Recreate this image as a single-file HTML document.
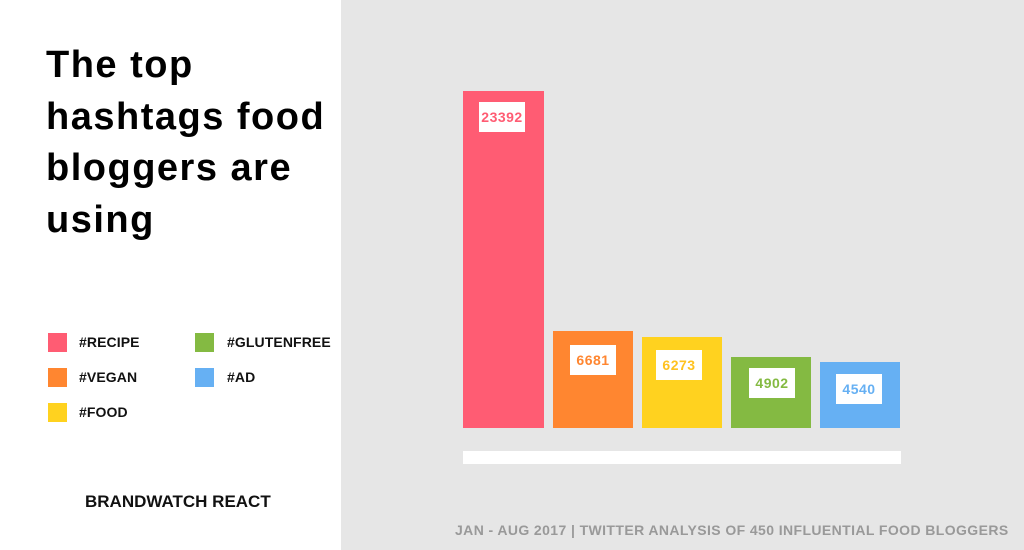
<!DOCTYPE html>
<html><head><style>
body{margin:0;width:1024px;height:550px;position:relative;background:#fff;font-family:"Liberation Sans",sans-serif;overflow:hidden}
.a{position:absolute;white-space:nowrap}
.gray{left:341px;top:0;width:683px;height:550px;background:#e6e6e6}
h1{position:absolute;left:46px;top:40px;margin:0;font-size:38px;line-height:51.5px;font-weight:bold;color:#000;letter-spacing:1.5px;white-space:nowrap}
.sq{width:19px;height:19px}
.lt{font-size:14px;font-weight:bold;letter-spacing:0.1px;color:#111}
.lb{background:#fff;width:46px;height:30px;font-size:14px;font-weight:bold;text-align:center;line-height:30px;letter-spacing:0.5px}
</style></head><body>
<div class="a gray"></div>
<h1>The top<br>hashtags food<br>bloggers are<br>using</h1>

<div class="a sq" style="left:48px;top:333px;background:#ff5c73"></div><div class="a lt" style="left:79px;top:334px">#RECIPE</div>
<div class="a sq" style="left:48px;top:368px;background:#ff8630"></div><div class="a lt" style="left:79px;top:369px">#VEGAN</div>
<div class="a sq" style="left:48px;top:403px;background:#ffd21f"></div><div class="a lt" style="left:79px;top:404px">#FOOD</div>
<div class="a sq" style="left:195px;top:333px;background:#84ba42"></div><div class="a lt" style="left:227px;top:334px">#GLUTENFREE</div>
<div class="a sq" style="left:195px;top:368px;background:#66b0f3"></div><div class="a lt" style="left:227px;top:369px">#AD</div>

<div class="a" style="left:85px;top:492px;font-size:17px;font-weight:bold;letter-spacing:0px;color:#111">BRANDWATCH REACT</div>

<div class="a" style="left:463px;top:91px;width:81px;height:337px;background:#ff5c73"></div>
<div class="a lb" style="left:479px;top:102px;color:#ff5c73">23392</div>
<div class="a" style="left:553px;top:331px;width:80px;height:97px;background:#ff8630"></div>
<div class="a lb" style="left:570px;top:345px;color:#ff8630">6681</div>
<div class="a" style="left:642px;top:337px;width:80px;height:91px;background:#ffd21f"></div>
<div class="a lb" style="left:656px;top:350px;color:#ffc21f">6273</div>
<div class="a" style="left:731px;top:357px;width:80px;height:71px;background:#84ba42"></div>
<div class="a lb" style="left:749px;top:368px;color:#84ba42">4902</div>
<div class="a" style="left:820px;top:362px;width:80px;height:66px;background:#66b0f3"></div>
<div class="a lb" style="left:836px;top:374px;color:#66b0f3">4540</div>

<div class="a" style="left:463px;top:451px;width:438px;height:13px;background:#fff"></div>

<div class="a" style="left:455px;top:522px;font-size:14px;font-weight:bold;letter-spacing:0.4px;color:#999">JAN - AUG 2017 | TWITTER ANALYSIS OF 450 INFLUENTIAL FOOD BLOGGERS</div>
</body></html>
